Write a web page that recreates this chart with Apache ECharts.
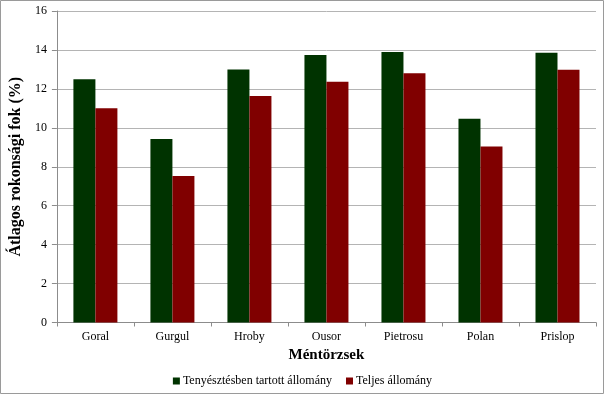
<!DOCTYPE html>
<html><head><meta charset="utf-8">
<script src="https://cdn.jsdelivr.net/npm/echarts@6/dist/echarts.min.js"></script>
<style>html,body{margin:0;padding:0;background:#fff}#c{width:605px;height:395px}</style>
</head><body><div id="c"></div>
<script>
const categories = ['Goral','Gurgul','Hroby','Ousor','Pietrosu','Polan','Prislop'];
const breeding = [12.49, 9.42, 13.0, 13.74, 13.89, 10.46, 13.86];
const total = [11.0, 7.53, 11.64, 12.36, 12.8, 9.04, 12.98];
const seriesNames = ['Tenyésztésben tartott állomány','Teljes állomány'];
const yTitle = 'Átlagos rokonsági fok (%)';
const xTitle = 'Méntörzsek';
const font = 'Liberation Serif';
const chart = echarts.init(document.getElementById('c'));
chart.setOption({
  animation:false,
  backgroundColor:'#fff',
  textStyle:{fontFamily:font},
  graphic:[{type:'rect',shape:{x:0.5,y:0.5,width:603,height:393},style:{fill:'none',stroke:'#9a9a9a',lineWidth:1},silent:true}],
  grid:{left:50,right:9,top:11,bottom:72.5,containLabel:false},
  legend:{bottom:3,left:'center',itemWidth:7,itemHeight:7,itemGap:14,icon:'rect',
    textStyle:{fontFamily:font,fontSize:12,color:'#000',padding:[0,0,0,-2]},data:seriesNames},
  xAxis:{type:'category',data:categories,name:xTitle,nameLocation:'middle',nameGap:25,
    nameTextStyle:{fontFamily:font,fontSize:15,fontWeight:'bold',color:'#000'},
    axisLine:{lineStyle:{color:'#8c8c8c'}},axisTick:{show:true,length:4,lineStyle:{color:'#8c8c8c'}},
    axisLabel:{fontFamily:font,fontSize:12,color:'#000',margin:8}},
  yAxis:{type:'value',min:0,max:16,interval:2,name:yTitle,nameLocation:'middle',nameGap:22,
    nameTextStyle:{fontFamily:font,fontSize:16,fontWeight:'bold',color:'#000'},
    axisLine:{show:true,lineStyle:{color:'#8c8c8c'}},axisTick:{show:true,length:5,lineStyle:{color:'#8c8c8c'}},
    axisLabel:{fontFamily:font,fontSize:12,color:'#000',margin:10},
    splitLine:{lineStyle:{color:'#b4b4b4'}}},
  series:[
    {name:seriesNames[0],type:'bar',data:breeding,barWidth:22,barGap:'0%',itemStyle:{color:'#003300'}},
    {name:seriesNames[1],type:'bar',data:total,barWidth:22,barGap:'0%',itemStyle:{color:'#800000'}}
  ]
});
</script></body></html>
